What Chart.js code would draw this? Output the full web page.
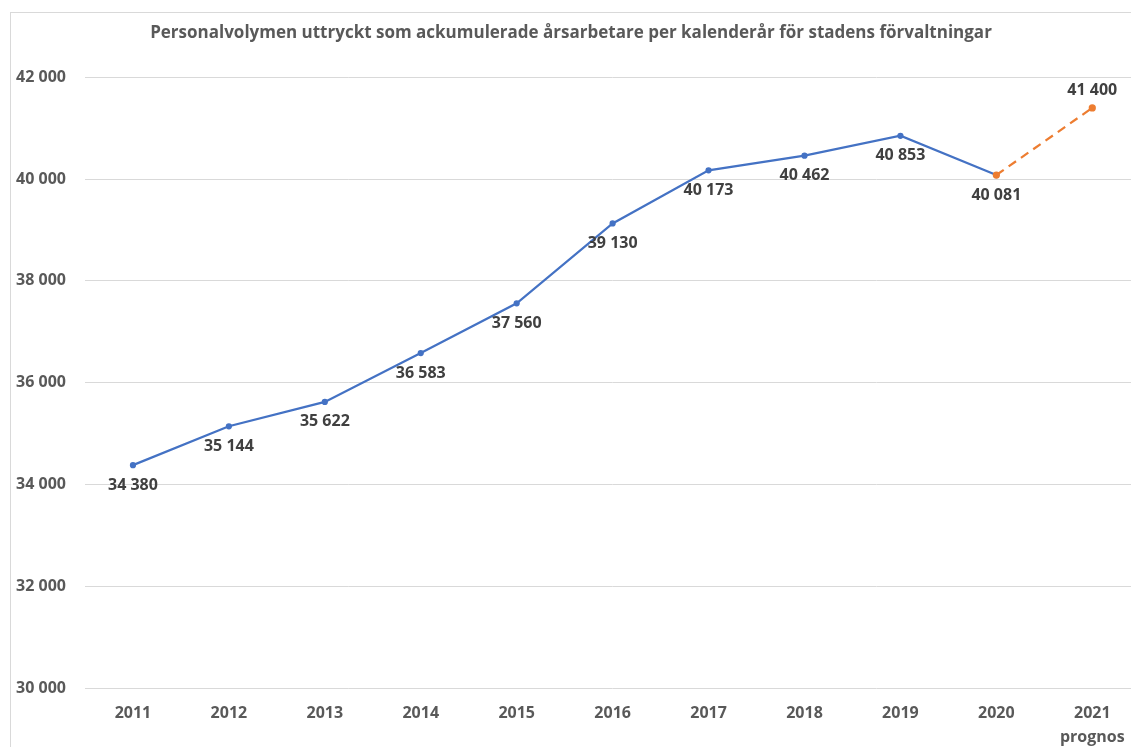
<!DOCTYPE html>
<html>
<head>
<meta charset="utf-8">
<script src="https://cdn.jsdelivr.net/npm/chart.js@4"></script>
<style>
  html,body{margin:0;padding:0;background:#fff;overflow:hidden;width:1131px;height:747px;}
  #wrap{position:absolute;left:0;top:0;width:1145px;height:747px;}
  #frame{position:absolute;left:10px;top:12px;width:1200px;height:800px;border-left:1px solid #d9d9d9;border-top:1px solid #d9d9d9;pointer-events:none;}
</style>
</head>
<body>
<div id="wrap"><canvas id="c" width="1145" height="747"></canvas></div>
<div id="frame"></div>
<script>
const categories = ["2011","2012","2013","2014","2015","2016","2017","2018","2019","2020",["2021","prognos"]];
const actual   = [34380, 35144, 35622, 36583, 37560, 39130, 40173, 40462, 40853, 40081, null];
const forecast = [null, null, null, null, null, null, null, null, null, 40081, 41400];
const labelValues = [34380, 35144, 35622, 36583, 37560, 39130, 40173, 40462, 40853, 40081, 41400];
const yTicks = [30000, 32000, 34000, 36000, 38000, 40000, 42000];
const titleText = "Personalvolymen uttryckt som ackumulerade årsarbetare per kalenderår för stadens förvaltningar";

const FONT = "'Open Sans', 'DejaVu Sans', sans-serif";
const fmt = v => String(v).replace(/\B(?=(\d{3})+(?!\d))/g, " ");

const labelPlugin = {
  id: 'valueLabels',
  afterDatasetsDraw(chart) {
    const ctx = chart.ctx;
    const xs = chart.scales.x, ys = chart.scales.y;
    ctx.save();
    ctx.font = "bold 16px " + FONT;
    ctx.fillStyle = "#404040";
    ctx.textAlign = "center";
    ctx.textBaseline = "middle";
    labelValues.forEach((v, i) => {
      const x = xs.getPixelForValue(i);
      const y = ys.getPixelForValue(v);
      const above = i === labelValues.length - 1;
      ctx.fillText(fmt(v), x, above ? y - 17 : y + 20);
    });
    ctx.restore();
  }
};

new Chart(document.getElementById('c'), {
  type: 'line',
  data: {
    labels: categories,
    datasets: [
      {
        data: actual,
        order: 1,
        borderColor: '#4472C4',
        backgroundColor: '#4472C4',
        borderWidth: 2.25,
        pointRadius: 2,
        pointHoverRadius: 2,
        tension: 0,
        spanGaps: false
      },
      {
        data: forecast,
        order: 0,
        borderColor: '#ED7D31',
        backgroundColor: '#ED7D31',
        borderWidth: 2.25,
        borderDash: [9, 6],
        pointRadius: 2.5,
        pointHoverRadius: 2.5,
        tension: 0
      }
    ]
  },
  options: {
    responsive: false,
    animation: false,
    devicePixelRatio: 1,
    layout: { padding: { left: 0, right: 3, top: 0, bottom: 0 } },
    plugins: {
      legend: { display: false },
      tooltip: { enabled: false },
      title: {
        display: true,
        text: titleText,
        color: '#595959',
        font: { family: FONT, size: 17, weight: 'bold', lineHeight: 1.2 },
        padding: { top: 23, bottom: 34 }
      }
    },
    scales: {
      x: {
        offset: true,
        grid: { display: false, drawTicks: false },
        border: { display: false },
        ticks: {
          color: '#595959',
          font: { family: FONT, size: 16, weight: 'bold', lineHeight: 1.5 },
          padding: 13,
          maxRotation: 0,
          autoSkip: false
        },
        afterFit(scale) { scale.height = 59; }
      },
      y: {
        min: 30000,
        max: 42000,
        afterBuildTicks(scale) { scale.ticks = yTicks.map(v => ({ value: v })); },
        grid: { color: '#d9d9d9', lineWidth: 1, drawTicks: false },
        border: { display: false },
        ticks: {
          color: '#595959',
          font: { family: FONT, size: 16, weight: 'bold' },
          padding: 19,
          callback: v => fmt(v)
        },
        afterFit(scale) { scale.width = 85; }
      }
    }
  },
  plugins: [labelPlugin]
});
</script>
</body>
</html>
